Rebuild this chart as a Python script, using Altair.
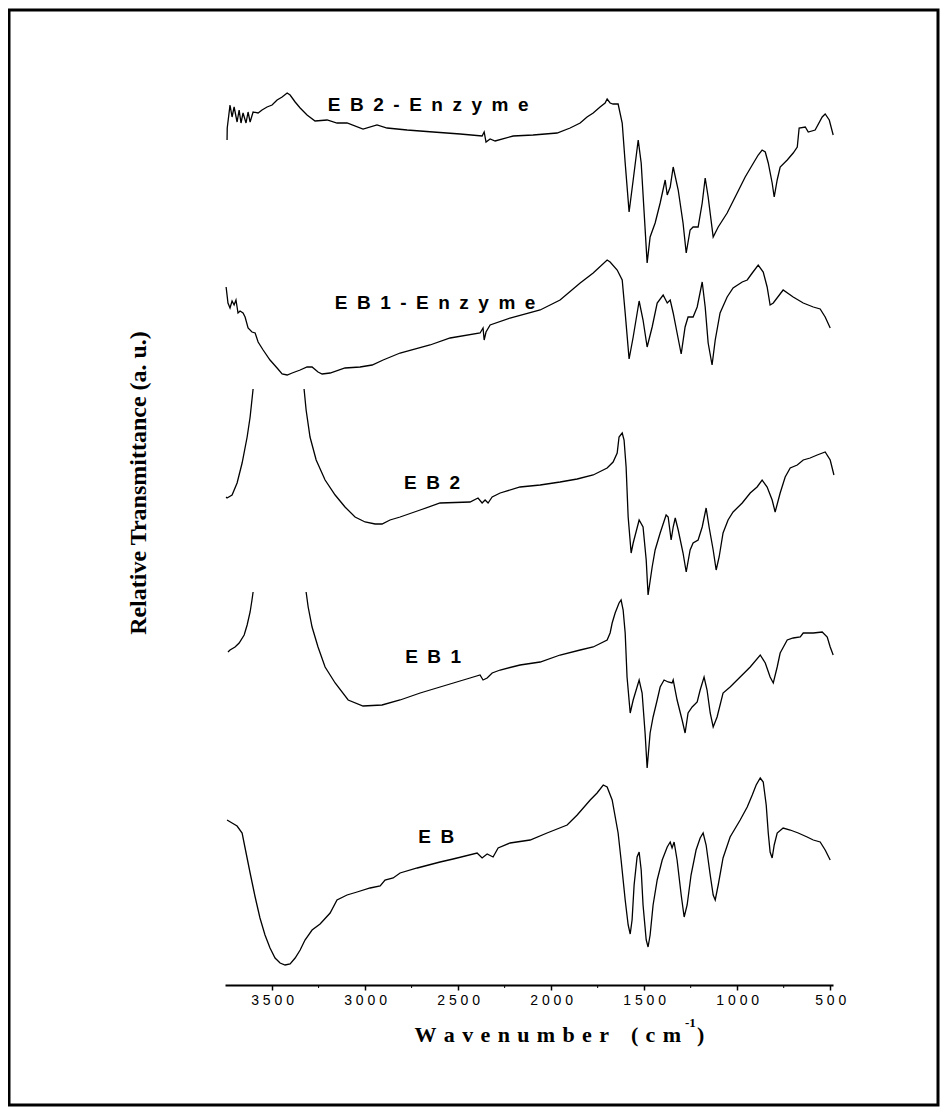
import altair as alt
import pandas as pd

# ---------------- data ----------------
# x: wavenumber (cm-1); y: relative transmittance (a.u., stacked display offsets included)

EB2_ENZ_WN = [3742, 3741, 3726, 3715, 3704, 3688, 3677, 3667, 3656, 3640, 3629, 3618, 3602, 3575, 3554, 3527,
              3500, 3473, 3446, 3419, 3403, 3376, 3349, 3312, 3269, 3204, 3151, 3097, 3011, 2936, 2882, 2774,
              2634, 2489, 2371, 2360, 2350, 2328, 2301, 2204, 2097, 1968, 1898, 1844, 1807, 1774, 1737, 1710,
              1699, 1683, 1667, 1640, 1618, 1602, 1581, 1559, 1532, 1516, 1500, 1484, 1468, 1441, 1414, 1387,
              1376, 1360, 1344, 1317, 1291, 1274, 1253, 1237, 1210, 1188, 1172, 1156, 1129, 1102, 1054, 1000,
              957, 919, 887, 866, 849, 833, 812, 801, 785, 769, 731, 699, 677, 667, 634, 618, 581, 543, 527,
              505, 484]
EB2_ENZ_T = [84.5, 85.7, 88.0, 86.8, 87.8, 86.3, 87.5, 86.2, 87.2, 86.2, 87.3, 86.3, 87.3, 87.2, 87.5, 87.8,
             88.0, 88.5, 88.8, 89.2, 89.0, 88.3, 87.7, 87.0, 86.4, 86.5, 86.2, 86.2, 85.6, 86.0, 85.7, 85.5,
             85.3, 85.1, 84.9, 85.3, 84.3, 84.6, 84.4, 84.9, 85.0, 85.2, 85.7, 86.2, 86.8, 87.2, 87.8, 88.2,
             88.6, 88.2, 88.1, 88.1, 86.2, 82.2, 77.3, 80.5, 84.5, 82.2, 77.2, 72.2, 74.8, 76.2, 78.2, 80.5,
             79.0, 79.8, 81.8, 79.5, 76.2, 73.2, 75.5, 75.8, 75.8, 78.2, 80.7, 78.8, 74.8, 75.8, 77.2, 79.2,
             80.8, 82.0, 83.0, 83.5, 83.3, 82.2, 80.2, 78.8, 80.5, 81.8, 82.5, 83.2, 83.8, 85.7, 85.8, 85.3,
             85.5, 86.8, 87.1, 86.5, 85.0]

EB1_ENZ_WN = [3747, 3737, 3726, 3715, 3704, 3694, 3683, 3672, 3656, 3645, 3629, 3608, 3591, 3575, 3548, 3511,
              3473, 3446, 3419, 3392, 3349, 3312, 3285, 3253, 3231, 3188, 3108, 3027, 2962, 2903, 2812, 2651,
              2543, 2382, 2366, 2360, 2350, 2328, 2221, 2059, 1952, 1844, 1774, 1699, 1683, 1645, 1618, 1602,
              1581, 1559, 1527, 1506, 1484, 1457, 1430, 1398, 1376, 1360, 1344, 1323, 1301, 1280, 1264, 1237,
              1215, 1188, 1172, 1156, 1135, 1118, 1092, 1054, 1022, 973, 946, 919, 887, 860, 839, 823, 806,
              753, 699, 645, 591, 554, 527, 500]
EB1_ENZ_T = [69.8, 68.2, 67.7, 68.4, 68.0, 68.5, 67.2, 67.4, 67.2, 66.8, 65.7, 65.3, 65.2, 64.3, 63.5, 62.5,
             61.7, 61.1, 61.0, 61.2, 61.5, 61.8, 61.8, 61.3, 61.1, 61.2, 61.7, 61.8, 62.0, 62.5, 63.2, 64.0,
             64.7, 65.2, 65.7, 64.5, 65.3, 66.0, 66.7, 67.5, 68.5, 70.2, 71.2, 72.5, 72.3, 71.5, 70.5, 67.2,
             62.6, 64.8, 68.4, 66.5, 63.8, 65.8, 68.2, 69.0, 68.2, 68.5, 67.2, 65.2, 63.1, 65.8, 66.8, 66.8,
             67.8, 70.3, 67.8, 64.2, 62.0, 64.5, 67.2, 68.8, 69.7, 70.3, 70.5, 71.2, 72.0, 71.3, 69.8, 68.0, 68.2,
             69.5, 68.8, 68.2, 67.8, 67.6, 66.8, 65.7]

# EB2 and EB1: the broad band runs off scale, so each trace has two visible parts
EB2_WN_A = [3747, 3742, 3715, 3688, 3661, 3634, 3618, 3602]
EB2_T_A = [48.8, 48.7, 49.0, 50.2, 52.2, 54.8, 56.8, 59.6]
EB2_WN_B = [3328, 3317, 3296, 3263, 3215, 3161, 3108, 3054, 3000, 2946, 2909, 2866, 2812, 2704, 2597, 2436,
            2393, 2371, 2355, 2339, 2317, 2274, 2167, 2059, 1952, 1860, 1774, 1699, 1667, 1645, 1635, 1618,
            1608, 1597, 1586, 1570, 1559, 1527, 1506, 1489, 1479, 1457, 1441, 1414, 1382, 1371, 1355, 1344,
            1333, 1317, 1291, 1274, 1253, 1237, 1210, 1188, 1167, 1151, 1129, 1113, 1097, 1076, 1049, 1022,
            973, 930, 893, 866, 839, 812, 796, 769, 742, 715, 677, 645, 608, 570, 527, 500, 480]
EB2_T_B = [59.6, 57.5, 54.8, 52.5, 50.5, 49.0, 47.8, 46.8, 46.3, 46.1, 46.1, 46.5, 46.8, 47.5, 48.2, 48.3,
           48.7, 48.2, 48.5, 48.2, 48.8, 49.2, 49.8, 50.0, 50.3, 50.6, 51.0, 51.7, 52.3, 53.2, 54.8, 55.2,
           54.5, 51.8, 46.8, 43.2, 44.2, 46.5, 45.8, 42.5, 39.0, 41.8, 43.5, 45.2, 47.0, 46.8, 44.5, 45.8,
           46.7, 45.5, 43.2, 41.3, 43.5, 44.2, 44.5, 45.8, 47.7, 45.8, 43.5, 41.5, 42.8, 45.2, 46.5, 47.3,
           48.2, 49.2, 49.8, 50.5, 49.8, 48.5, 47.3, 49.2, 50.8, 51.7, 52.0, 52.5, 52.7, 53.0, 53.3, 52.5, 51.0]

EB1_WN_A = [3737, 3726, 3699, 3677, 3650, 3634, 3618, 3608, 3602]
EB1_T_A = [33.3, 33.5, 33.8, 34.2, 35.0, 36.0, 37.3, 38.5, 39.3]
EB1_WN_B = [3317, 3306, 3285, 3253, 3215, 3161, 3091, 3011, 2909, 2812, 2704, 2597, 2436, 2382, 2366, 2344,
            2317, 2274, 2167, 2059, 1952, 1844, 1774, 1699, 1683, 1672, 1656, 1635, 1624, 1613, 1602, 1592,
            1575, 1559, 1527, 1511, 1495, 1484, 1468, 1452, 1430, 1414, 1393, 1371, 1350, 1344, 1323, 1296,
            1280, 1264, 1242, 1215, 1199, 1178, 1162, 1145, 1129, 1108, 1076, 1038, 984, 930, 876, 849, 823,
            806, 785, 769, 731, 699, 661, 645, 591, 543, 516, 500, 484]
EB1_T_B = [39.3, 37.8, 35.8, 33.8, 31.8, 30.2, 28.5, 27.9, 28.0, 28.5, 29.2, 29.8, 30.7, 31.0, 30.5, 30.7,
           31.2, 31.5, 32.0, 32.3, 33.0, 33.5, 33.8, 34.5, 35.2, 36.2, 37.2, 38.2, 38.5, 37.5, 35.2, 30.8,
           27.2, 28.5, 30.5, 29.2, 25.2, 21.7, 25.2, 26.8, 28.5, 29.8, 30.5, 30.3, 30.2, 30.5, 28.5, 26.5,
           25.2, 27.2, 27.8, 28.3, 29.5, 30.8, 29.5, 27.2, 25.8, 26.8, 29.2, 29.8, 30.8, 31.8, 33.0, 32.2, 30.8,
           30.2, 31.8, 33.2, 34.5, 34.7, 34.8, 35.2, 35.2, 35.3, 34.8, 33.8, 33.0]

EB_WN = [3742, 3715, 3688, 3661, 3645, 3618, 3591, 3565, 3538, 3511, 3484, 3457, 3430, 3403, 3376, 3349,
         3323, 3285, 3242, 3188, 3151, 3097, 3043, 2973, 2919, 2893, 2849, 2812, 2720, 2597, 2527, 2398,
         2371, 2344, 2312, 2285, 2221, 2113, 2022, 1914, 1860, 1790, 1753, 1720, 1699, 1672, 1640, 1624,
         1602, 1586, 1575, 1565, 1554, 1538, 1527, 1516, 1506, 1489, 1479, 1468, 1452, 1430, 1403, 1376,
         1360, 1350, 1339, 1323, 1301, 1285, 1269, 1248, 1221, 1199, 1183, 1167, 1145, 1129, 1118, 1102,
         1076, 1038, 984, 946, 919, 898, 876, 860, 844, 833, 823, 812, 801, 785, 753, 715, 672, 624, 591,
         554, 527, 500]
EB_T = [16.5, 16.2, 15.9, 15.2, 13.7, 11.2, 8.8, 6.7, 5.0, 3.7, 2.7, 2.2, 2.0, 2.1, 2.7, 3.5,
        4.5, 5.5, 6.1, 7.2, 8.5, 9.0, 9.3, 9.7, 9.9, 10.5, 10.7, 11.2, 11.7, 12.3, 12.6, 13.2,
        12.7, 13.1, 12.8, 13.7, 14.2, 14.5, 15.2, 16.0, 17.0, 18.5, 19.2, 20.0, 19.8, 18.5, 15.2, 12.5,
        8.5, 6.0, 5.1, 6.5, 10.0, 12.8, 13.3, 11.5, 8.0, 4.5, 3.8, 5.0, 8.0, 10.5, 12.5, 13.8,
        14.3, 13.7, 14.3, 12.5, 9.0, 6.8, 8.0, 11.0, 13.5, 14.7, 15.2, 14.0, 11.0, 9.0, 8.5, 10.0,
        12.7, 14.8, 16.5, 17.8, 19.0, 20.0, 20.7, 20.3, 18.0, 15.2, 13.3, 12.7, 14.0, 15.2, 15.7, 15.5, 15.2,
        14.8, 14.5, 14.3, 13.5, 12.5]

SERIES_LABELS = ["EB2-Enzyme", "EB1-Enzyme", "EB2", "EB1", "EB"]
LABEL_WN = [2661, 2624, 2640, 2634, 2618]
LABEL_T = [88.0, 68.2, 50.2, 32.8, 14.8]

TICK_VALUES = [3500, 3000, 2500, 2000, 1500, 1000, 500]
MINOR_TICKS = [3250, 2750, 2250, 1750, 1250, 750]

X_TITLE = "Wavenumber (cm"
X_TITLE_SUP = "-1"
Y_TITLE = "Relative Transmittance (a. u.)"

# ---------------- build table ----------------
parts = [
    ("EB2-Enzyme", "a", EB2_ENZ_WN, EB2_ENZ_T),
    ("EB1-Enzyme", "a", EB1_ENZ_WN, EB1_ENZ_T),
    ("EB2", "a", EB2_WN_A, EB2_T_A),
    ("EB2", "b", EB2_WN_B, EB2_T_B),
    ("EB1", "a", EB1_WN_A, EB1_T_A),
    ("EB1", "b", EB1_WN_B, EB1_T_B),
    ("EB", "a", EB_WN, EB_T),
]
rows = []
for name, part, wn, t in parts:
    assert len(wn) == len(t), (name, part, len(wn), len(t))
    for a, b in zip(wn, t):
        rows.append({"series": name, "part": name + "-" + part, "wn": a, "t": b})
df = pd.DataFrame(rows)

labels_df = pd.DataFrame({
    "label": ["\u2002".join(s) for s in SERIES_LABELS],
    "wn": LABEL_WN,
    "t": LABEL_T,
})
minor_df = pd.DataFrame({"wn": MINOR_TICKS})
one = pd.DataFrame({"k": [0]})

W, H = 608, 955
x_scale = alt.Scale(domain=[3753, 485], nice=False, zero=False)
y_scale = alt.Scale(domain=[0, 95.5], nice=False, zero=False)

expr = "''"
for v in reversed(TICK_VALUES):
    expr = f"datum.value == {v} ? '{' '.join(str(v))}' : ({expr})"

x_axis = alt.Axis(values=TICK_VALUES, labelExpr=expr, title=None, grid=False,
                  domainColor="black", domainWidth=2, tickColor="black", tickWidth=1.5,
                  tickSize=5, labelFont="Liberation Sans", labelFontSize=14, labelColor="black",
                  labelPadding=3)

lines = alt.Chart(df).mark_line(color="black", strokeWidth=1.3).encode(
    x=alt.X("wn:Q", scale=x_scale, axis=x_axis),
    y=alt.Y("t:Q", scale=y_scale, axis=None),
    detail="part:N",
)

minor = alt.Chart(minor_df).mark_rule(color="black", strokeWidth=1).encode(
    x=alt.X("wn:Q", scale=x_scale, axis=x_axis),
    y=alt.value(H),
    y2=alt.value(H + 3),
)

labels = alt.Chart(labels_df).mark_text(
    font="Liberation Sans", fontWeight="bold", fontSize=19, color="black",
    align="center", baseline="middle"
).encode(
    x=alt.X("wn:Q", scale=x_scale, axis=x_axis),
    y=alt.Y("t:Q", scale=y_scale, axis=None),
    text="label:N",
)

sp = "\u2004"
x_title_main = alt.Chart(one).mark_text(
    text=sp.join(X_TITLE).replace(sp + " " + sp, sp + sp + sp),
    font="Liberation Serif", fontWeight="bold", fontSize=22, color="black",
    align="right", baseline="middle"
).encode(x=alt.value(456), y=alt.value(1005))

x_title_sup = alt.Chart(one).mark_text(
    text=X_TITLE_SUP, font="Liberation Serif", fontWeight="bold", fontSize=13, color="black",
    align="left", baseline="middle"
).encode(x=alt.value(460), y=alt.value(993))

x_title_close = alt.Chart(one).mark_text(
    text=")", font="Liberation Serif", fontWeight="bold", fontSize=22, color="black",
    align="left", baseline="middle"
).encode(x=alt.value(472), y=alt.value(1005))

y_title = alt.Chart(one).mark_text(
    text=Y_TITLE, font="Liberation Serif", fontWeight="bold", fontSize=24, color="black",
    align="center", baseline="middle", angle=270
).encode(x=alt.value(-86), y=alt.value(453))

frame = alt.Chart(one).mark_rect(filled=False, stroke="black", strokeWidth=3).encode(
    x=alt.value(-216), x2=alt.value(713), y=alt.value(-20), y2=alt.value(1075)
)

chart = alt.layer(
    frame, lines, minor, labels, x_title_main, x_title_sup, x_title_close, y_title
).properties(
    width=W, height=H,
    autosize=alt.AutoSizeParams(type="none"),
    padding={"left": 217, "top": 22, "right": 107, "bottom": 122},
    background="white",
).configure_view(stroke=None)

chart.save("out.html", embed_options={"renderer": "svg", "actions": False})
